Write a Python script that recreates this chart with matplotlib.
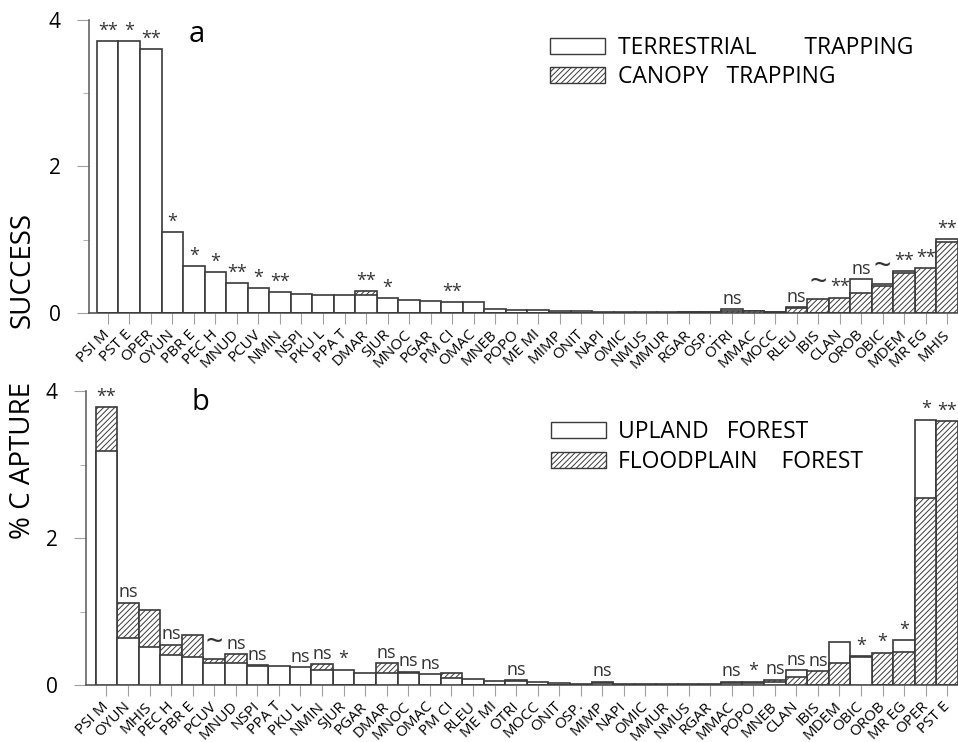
import numpy as np
import matplotlib
matplotlib.use("Agg")
import matplotlib.pyplot as plt
from matplotlib.patches import Patch

# ── data ───────────────────────────────────────────────────────────────────────
cats_a = ["PSI M", "PST E", "OPER", "OYUN", "PBR E", "PEC H", "MNUD", "PCUV",
          "NMIN", "NSPI", "PKU L", "PPA T", "DMAR", "SJUR", "MNOC", "PGAR",
          "PM CI", "OMAC", "MNEB", "POPO", "ME MI", "MIMP", "ONIT", "NAPI",
          "OMIC", "NMUS", "MMUR", "RGAR", "OSP.", "OTRI", "MMAC", "MOCC",
          "RLEU", "IBIS", "CLAN", "OROB", "OBIC", "MDEM", "MR EG", "MHIS"]
terrestrial = [3.71, 3.71, 3.60, 1.10, 0.64, 0.555, 0.405, 0.337,
               0.28, 0.26, 0.245, 0.245, 0.24, 0.205, 0.18, 0.17,
               0.146, 0.146, 0.055, 0.04, 0.04, 0.03, 0.025, 0.012,
               0.01, 0.01, 0.01, 0.01, 0.015, 0.05, 0.03, 0.02,
               0.08, 0.0, 0.0, 0.46, 0.40, 0.57, 0.0, 1.01]
canopy = [0, 0, 0, 0, 0, 0, 0, 0,
          0, 0, 0, 0, 0.296, 0, 0, 0,
          0, 0, 0, 0, 0, 0, 0, 0,
          0, 0, 0, 0.01, 0.02, 0.03, 0.03, 0.02,
          0.07, 0.19, 0.21, 0.27, 0.37, 0.55, 0.61, 0.965]
sig_a = {"PSI M": "**", "PST E": "*", "OPER": "**", "OYUN": "*", "PBR E": "*",
         "PEC H": "*", "MNUD": "**", "PCUV": "*", "NMIN": "**", "DMAR": "**",
         "SJUR": "*", "PM CI": "**", "OTRI": "ns", "RLEU": "ns", "IBIS": "~",
         "CLAN": "**", "OROB": "ns", "OBIC": "~", "MDEM": "**", "MR EG": "**",
         "MHIS": "**"}

cats_b = ["PSI M", "OYUN", "MHIS", "PEC H", "PBR E", "PCUV", "MNUD", "NSPI",
          "PPA T", "PKU L", "NMIN", "SJUR", "PGAR", "DMAR", "MNOC", "OMAC",
          "PM CI", "RLEU", "ME MI", "OTRI", "MOCC", "ONIT", "OSP.", "MIMP",
          "NAPI", "OMIC", "MMUR", "NMUS", "RGAR", "MMAC", "POPO", "MNEB",
          "CLAN", "IBIS", "MDEM", "OBIC", "OROB", "MR EG", "OPER", "PST E"]
upland = [3.18, 0.64, 0.52, 0.41, 0.375, 0.30, 0.30, 0.26,
          0.26, 0.24, 0.20, 0.21, 0.17, 0.16, 0.16, 0.145,
          0.09, 0.08, 0.05, 0.05, 0.045, 0.03, 0.02, 0.03,
          0.01, 0.01, 0.01, 0.01, 0.01, 0.03, 0.03, 0.04,
          0.20, 0.0, 0.58, 0.38, 0.0, 0.61, 3.61, 0.0]
floodplain = [3.78, 1.12, 1.02, 0.55, 0.675, 0.35, 0.42, 0.27,
              0.0, 0.0, 0.285, 0.0, 0.0, 0.295, 0.18, 0.0,
              0.17, 0.0, 0.0, 0.064, 0.0, 0.0, 0.0, 0.045,
              0.0, 0.0, 0.0, 0.0, 0.0, 0.045, 0.045, 0.07,
              0.115, 0.19, 0.295, 0.39, 0.44, 0.45, 2.55, 3.59]
sig_b = {"PSI M": "**", "OYUN": "ns", "PEC H": "ns", "PCUV": "~", "MNUD": "ns",
         "NSPI": "ns", "PKU L": "ns", "NMIN": "ns", "SJUR": "*", "DMAR": "ns",
         "MNOC": "ns", "OMAC": "ns", "OTRI": "ns", "MIMP": "ns", "MMAC": "ns",
         "POPO": "*", "MNEB": "ns", "CLAN": "ns", "IBIS": "ns", "OBIC": "*",
         "OROB": "*", "MR EG": "*", "OPER": "*", "PST E": "**"}

# ── style ──────────────────────────────────────────────────────────────────────
plt.rcParams['font.family'] = ['Open Sans', 'DejaVu Sans']
plt.rcParams['hatch.linewidth'] = 0.7
plt.rcParams['hatch.color'] = '#3a3a3a'
EDGE = '#3a3a3a'
HATCH = '//////'
TICK_C = '#a0a0a0'

W, H = 958, 742
fig = plt.figure(figsize=(W / 100, H / 100), dpi=100)
ax_a = fig.add_axes([89 / W, (H - 313) / H, (W - 89) / W, 293.5 / H])
ax_b = fig.add_axes([86 / W, 57 / H, (W - 86) / W, 294 / H])


def draw_panel(ax, cats, white_vals, hatch_vals, sig, xlo):
    x = np.arange(len(cats))
    wb = ax.bar(x, white_vals, width=1.0, color='white', edgecolor=EDGE, linewidth=1.2)
    hb = ax.bar(x, hatch_vals, width=1.0, color='white', edgecolor=EDGE, linewidth=1.2,
                hatch=HATCH)
    # overlaid bars: the shorter one sits in front
    for pw, ph, w, h in zip(wb, hb, white_vals, hatch_vals):
        if w >= h:
            pw.set_zorder(2); ph.set_zorder(3)
        else:
            pw.set_zorder(3); ph.set_zorder(2)

    for i, c in enumerate(cats):
        s = sig.get(c)
        if s:
            top = max(white_vals[i], hatch_vals[i])
            fs = 22 if s == "~" else 13
            ax.annotate(s, (i, top), xytext=(0, 1), textcoords='offset points',
                        ha='center', va='bottom', fontsize=fs, color='#333333',
                        annotation_clip=False)

    ax.set_xlim(xlo, 39.5)
    ax.set_ylim(0, 4)
    ax.set_xticks(x)
    ax.set_xticklabels(cats, rotation=45, ha='right', va='center',
                       rotation_mode='anchor', fontsize=11)
    ax.set_yticks([0, 2, 4])
    ax.set_yticks([1, 3], minor=True)
    ax.tick_params(axis='y', which='major', length=8.5, color=TICK_C, labelsize=15, pad=12)
    ax.tick_params(axis='y', which='minor', length=4.5, color=TICK_C)
    ax.tick_params(axis='x', length=8, color=TICK_C, pad=6)
    for side in ('top', 'right'):
        ax.spines[side].set_visible(False)
    ax.spines['left'].set_color('#666666')
    ax.spines['bottom'].set_color('#555555')
    ax.spines['left'].set_linewidth(1.2)
    ax.spines['bottom'].set_linewidth(1.2)


draw_panel(ax_a, cats_a, terrestrial, canopy, sig_a, -0.87)
draw_panel(ax_b, cats_b, upland, floodplain, sig_b, -0.95)

ax_a.legend(handles=[Patch(facecolor='white', edgecolor=EDGE, label='TERRESTRIAL        TRAPPING'),
                     Patch(facecolor='white', edgecolor=EDGE, hatch=HATCH, label='CANOPY   TRAPPING')],
            loc='upper left', bbox_to_anchor=(0.531, 0.945), frameon=False, fontsize=16.5,
            handlelength=2.4, handleheight=0.7, handletextpad=0.55, labelspacing=0.25,
            borderaxespad=0, borderpad=0)
ax_b.legend(handles=[Patch(facecolor='white', edgecolor=EDGE, label='UPLAND   FOREST'),
                     Patch(facecolor='white', edgecolor=EDGE, hatch=HATCH, label='FLOODPLAIN    FOREST')],
            loc='upper left', bbox_to_anchor=(0.533, 0.9), frameon=False, fontsize=16.5,
            handlelength=2.4, handleheight=0.7, handletextpad=0.55, labelspacing=0.25,
            borderaxespad=0, borderpad=0)

ax_a.text(0.124, 0.95, 'a', transform=ax_a.transAxes, fontsize=21, ha='center', va='center')
ax_b.text(0.131, 0.96, 'b', transform=ax_b.transAxes, fontsize=21, ha='center', va='center')

ax_a.set_ylabel('SUCCESS', fontsize=20)
ax_a.yaxis.set_label_coords(-0.06, 0.147)
ax_b.set_ylabel('% C APTURE', fontsize=20)
ax_b.yaxis.set_label_coords(-0.056, 0.765)

fig.savefig('out.png', dpi=100)
